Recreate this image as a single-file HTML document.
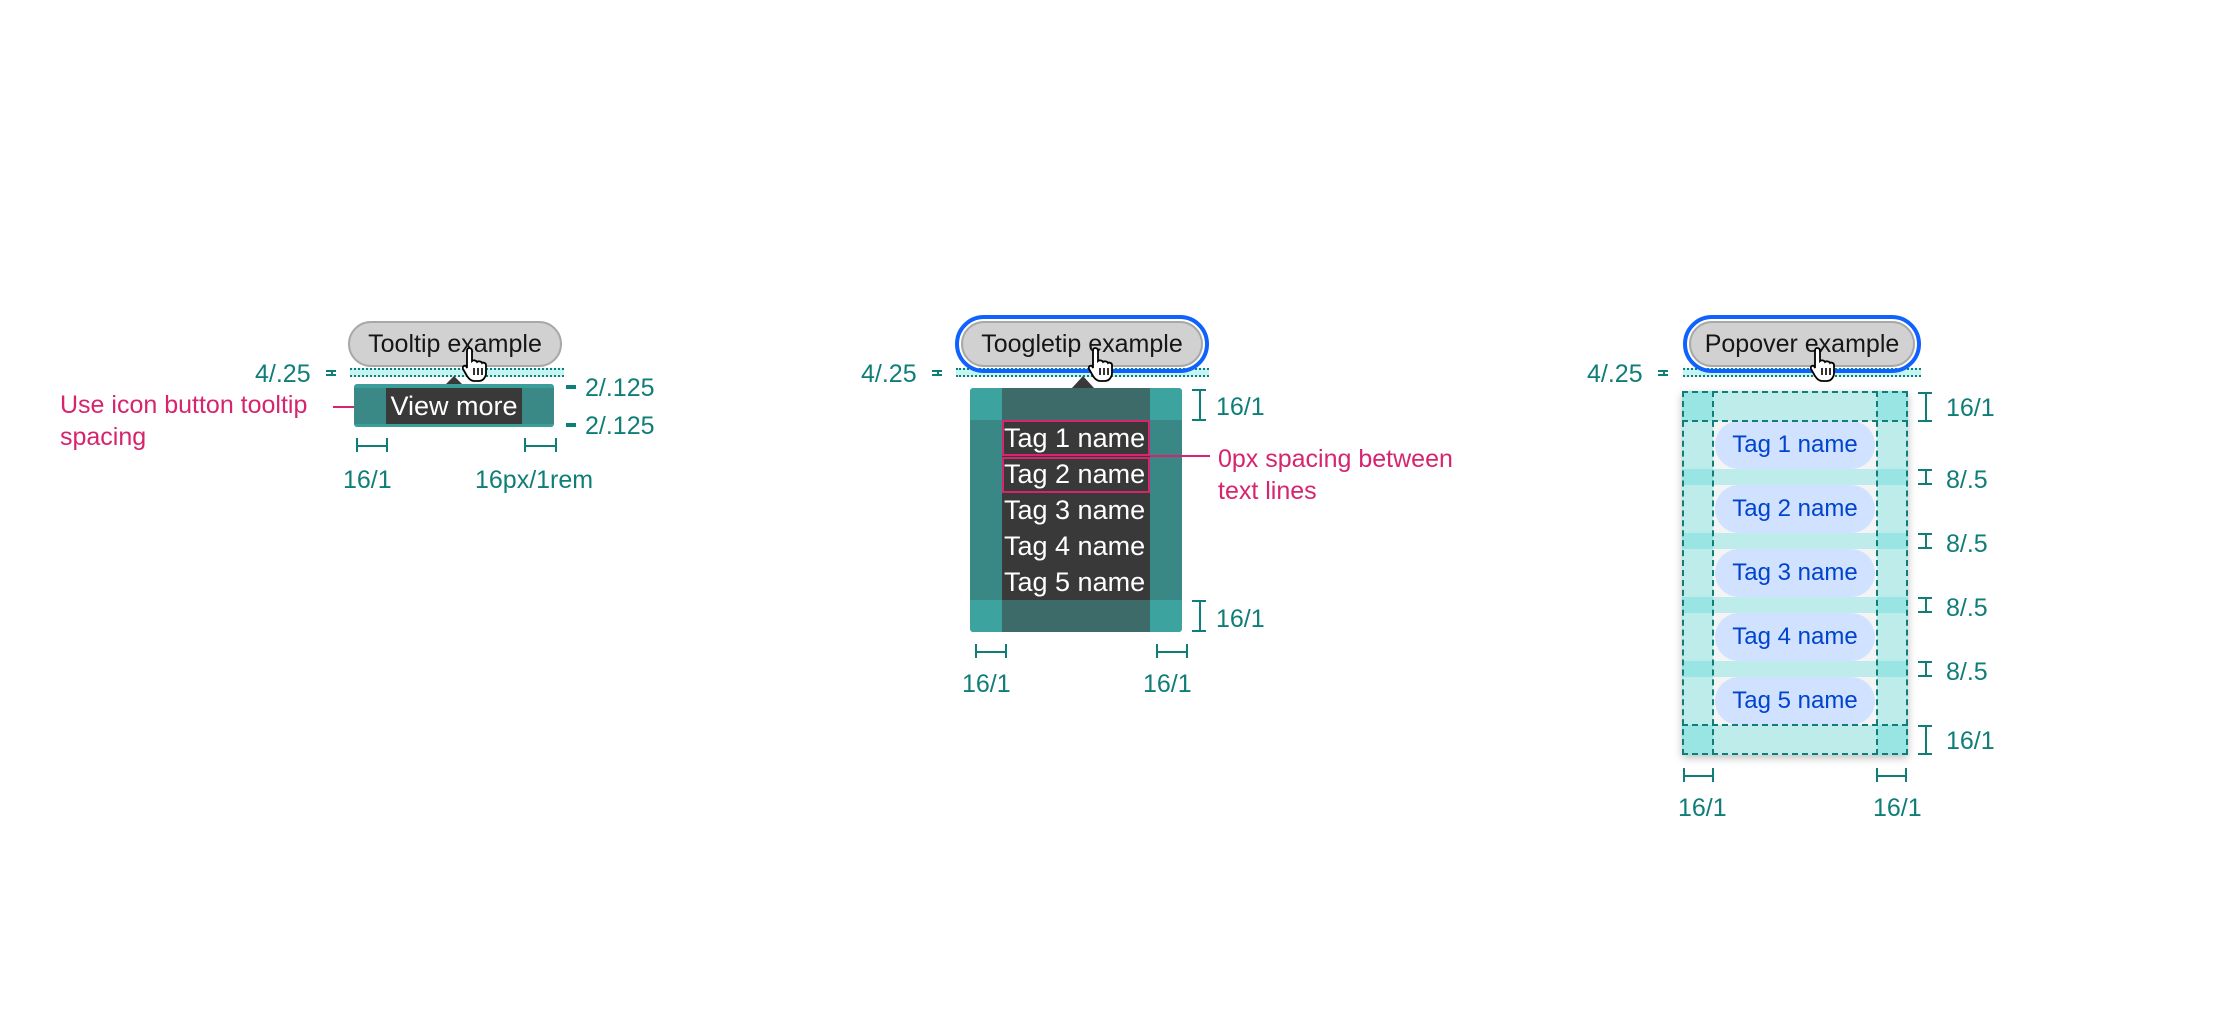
<!DOCTYPE html>
<html><head><meta charset="utf-8"><style>
body{margin:0;width:2240px;height:1016px;background:#fff;position:relative;overflow:hidden;font-family:"Liberation Sans",sans-serif}
.a{position:absolute}
.t{position:absolute;color:#0f7d78;font-size:25px;line-height:28px;white-space:nowrap}
.p{position:absolute;color:#d6246e;font-size:25px;line-height:32px;white-space:nowrap}
.btn{position:absolute;background:#d1d1d1;border:2px solid #a8a8a8;border-radius:24px;box-sizing:border-box;font-size:25px;color:#161616;text-align:center}
.ring{position:absolute;border:4px solid #0f62fe;border-radius:30px;box-sizing:border-box}
.band{position:absolute;background:#c6f4f2;border-top:2px dotted #0f7d78;border-bottom:2px dotted #0f7d78;box-sizing:border-box}
.hb{position:absolute;border-left:2px solid #0f7d78;border-right:2px solid #0f7d78;box-sizing:border-box}
.hb:after{content:"";position:absolute;left:0;right:0;top:50%;border-top:2px solid #0f7d78}
.vb{position:absolute;border-top:2px solid #0f7d78;border-bottom:2px solid #0f7d78;box-sizing:border-box}
.vb:after{content:"";position:absolute;top:0;bottom:0;left:50%;border-left:2px solid #0f7d78}
.tag{position:absolute;color:#fff;font-size:27px;line-height:36px}
.pill{position:absolute;left:1715px;width:160px;height:48px;border-radius:24px;background:#d0e2ff;color:#0043ce;font-size:24px;line-height:48px;text-align:center}
</style></head><body>
<!-- Tooltip -->
<div class="band" style="left:350px;top:368px;width:214px;height:9px"></div>
<div class="btn" style="left:348px;top:321px;width:214px;height:46px;line-height:42px">Tooltip example</div>
<div class="a" style="left:354px;top:384px;width:200px;height:43px;background:#3c9e9b;border-radius:3px"></div>
<div class="a" style="left:354px;top:388px;width:200px;height:36px;background:#3b8987"></div>
<div class="a" style="left:446px;top:376px;width:0;height:0;border-left:8px solid transparent;border-right:8px solid transparent;border-bottom:8px solid #393939"></div>
<div class="a" style="left:386px;top:388px;width:136px;height:36px;background:#393939;color:#fff;font-size:27px;line-height:36px;text-align:center">View more</div>
<div class="t" style="left:255px;top:360px">4/.25</div>
<div class="vb" style="left:326px;top:370px;width:10px;height:6px"></div>
<div class="vb" style="left:566px;top:385px;width:10px;height:4px"></div>
<div class="t" style="left:585px;top:374px">2/.125</div>
<div class="vb" style="left:566px;top:423px;width:10px;height:4px"></div>
<div class="t" style="left:585px;top:412px">2/.125</div>
<div class="p" style="left:60px;top:389px">Use icon button tooltip<br>spacing</div>
<div class="a" style="left:333px;top:406px;width:21px;height:2px;background:#d6246e"></div>
<div class="hb" style="left:356px;top:438px;width:32px;height:14px"></div>
<div class="hb" style="left:524px;top:438px;width:33px;height:14px"></div>
<div class="t" style="left:343px;top:466px">16/1</div>
<div class="t" style="left:475px;top:466px">16px/1rem</div>

<!-- Toggletip -->
<div class="band" style="left:956px;top:368px;width:253px;height:9px"></div>
<div class="ring" style="left:955px;top:315px;width:254px;height:58px"></div>
<div class="btn" style="left:961px;top:321px;width:242px;height:46px;line-height:42px">Toogletip example</div>
<div class="a" style="left:1072px;top:376px;width:0;height:0;border-left:11px solid transparent;border-right:11px solid transparent;border-bottom:12px solid #393939"></div>
<div class="a" style="left:970px;top:388px;width:212px;height:244px;background:#3ca39f;border-radius:3px"></div>
<div class="a" style="left:970px;top:420px;width:212px;height:180px;background:#3a8886"></div>
<div class="a" style="left:1002px;top:388px;width:148px;height:244px;background:#3c6b69"></div>
<div class="a" style="left:1002px;top:420px;width:148px;height:180px;background:#393939"></div>
<div class="tag" style="left:1004px;top:420px">Tag 1 name</div>
<div class="tag" style="left:1004px;top:456px">Tag 2 name</div>
<div class="tag" style="left:1004px;top:492px">Tag 3 name</div>
<div class="tag" style="left:1004px;top:528px">Tag 4 name</div>
<div class="tag" style="left:1004px;top:564px">Tag 5 name</div>
<div class="a" style="left:1002px;top:420px;width:148px;height:36px;border:2px solid #d6246e;box-sizing:border-box"></div>
<div class="a" style="left:1002px;top:457px;width:148px;height:36px;border:2px solid #d6246e;box-sizing:border-box"></div>
<div class="a" style="left:1150px;top:455px;width:60px;height:2px;background:#d6246e"></div>
<div class="p" style="left:1218px;top:443px">0px spacing between<br>text lines</div>
<div class="t" style="left:861px;top:360px">4/.25</div>
<div class="vb" style="left:932px;top:370px;width:10px;height:6px"></div>
<div class="vb" style="left:1192px;top:389px;width:14px;height:32px"></div>
<div class="t" style="left:1216px;top:393px">16/1</div>
<div class="vb" style="left:1192px;top:600px;width:14px;height:32px"></div>
<div class="t" style="left:1216px;top:605px">16/1</div>
<div class="hb" style="left:975px;top:644px;width:32px;height:14px"></div>
<div class="hb" style="left:1156px;top:644px;width:32px;height:14px"></div>
<div class="t" style="left:962px;top:670px">16/1</div>
<div class="t" style="left:1143px;top:670px">16/1</div>

<!-- Popover -->
<div class="band" style="left:1683px;top:368px;width:238px;height:9px"></div>
<div class="ring" style="left:1683px;top:315px;width:238px;height:58px"></div>
<div class="btn" style="left:1689px;top:321px;width:226px;height:46px;line-height:42px">Popover example</div>
<div class="a" style="left:1682px;top:391px;width:226px;height:364px;background:#bdecea;box-shadow:0 3px 8px rgba(0,0,0,0.25)"></div>
<div class="a" style="left:1713px;top:421px;width:164px;height:304px;background:#f4f4f4"></div>
<div class="a" style="left:1682px;top:391px;width:31px;height:30px;background:#98e5e3"></div>
<div class="a" style="left:1877px;top:391px;width:31px;height:30px;background:#98e5e3"></div>
<div class="a" style="left:1682px;top:725px;width:31px;height:30px;background:#98e5e3"></div>
<div class="a" style="left:1877px;top:725px;width:31px;height:30px;background:#98e5e3"></div>
<div class="pill" style="top:421px">Tag 1 name</div>
<div class="pill" style="top:485px">Tag 2 name</div>
<div class="pill" style="top:549px">Tag 3 name</div>
<div class="pill" style="top:613px">Tag 4 name</div>
<div class="pill" style="top:677px">Tag 5 name</div>
<div class="a" style="left:1682px;top:469px;width:226px;height:16px;background:#bdecea"></div>
<div class="a" style="left:1682px;top:533px;width:226px;height:16px;background:#bdecea"></div>
<div class="a" style="left:1682px;top:597px;width:226px;height:16px;background:#bdecea"></div>
<div class="a" style="left:1682px;top:661px;width:226px;height:16px;background:#bdecea"></div>
<div class="a" style="left:1682px;top:469px;width:31px;height:16px;background:#98e5e3;box-shadow:195px 0 0 #98e5e3"></div>
<div class="a" style="left:1682px;top:533px;width:31px;height:16px;background:#98e5e3;box-shadow:195px 0 0 #98e5e3"></div>
<div class="a" style="left:1682px;top:597px;width:31px;height:16px;background:#98e5e3;box-shadow:195px 0 0 #98e5e3"></div>
<div class="a" style="left:1682px;top:661px;width:31px;height:16px;background:#98e5e3;box-shadow:195px 0 0 #98e5e3"></div>
<div class="a" style="left:1682px;top:391px;width:226px;height:364px;border:2px dashed #0f7d78;box-sizing:border-box"></div>
<div class="a" style="left:1712px;top:391px;width:0;height:364px;border-left:2px dashed #0f7d78"></div>
<div class="a" style="left:1876px;top:391px;width:0;height:364px;border-left:2px dashed #0f7d78"></div>
<div class="a" style="left:1682px;top:420px;width:226px;height:0;border-top:2px dashed #0f7d78"></div>
<div class="a" style="left:1682px;top:724px;width:226px;height:0;border-top:2px dashed #0f7d78"></div>
<div class="t" style="left:1587px;top:360px">4/.25</div>
<div class="vb" style="left:1658px;top:370px;width:10px;height:6px"></div>
<div class="vb" style="left:1918px;top:392px;width:14px;height:30px"></div>
<div class="t" style="left:1946px;top:394px">16/1</div>
<div class="vb" style="left:1918px;top:469px;width:14px;height:16px"></div>
<div class="t" style="left:1946px;top:466px">8/.5</div>
<div class="vb" style="left:1918px;top:533px;width:14px;height:16px"></div>
<div class="t" style="left:1946px;top:530px">8/.5</div>
<div class="vb" style="left:1918px;top:597px;width:14px;height:16px"></div>
<div class="t" style="left:1946px;top:594px">8/.5</div>
<div class="vb" style="left:1918px;top:661px;width:14px;height:16px"></div>
<div class="t" style="left:1946px;top:658px">8/.5</div>
<div class="vb" style="left:1918px;top:725px;width:14px;height:30px"></div>
<div class="t" style="left:1946px;top:727px">16/1</div>
<div class="hb" style="left:1683px;top:768px;width:31px;height:14px"></div>
<div class="hb" style="left:1876px;top:768px;width:31px;height:14px"></div>
<div class="t" style="left:1678px;top:794px">16/1</div>
<div class="t" style="left:1873px;top:794px">16/1</div>

<!-- cursors -->
<svg class="a" style="left:462px;top:346px" width="30" height="36" viewBox="0 0 30 36"><path d="M7 2c2 0 3 1 3 3v10c1-1 4-1 5 1 1-1 4-1 5 1 1-1 4 0 4 2v8c0 4-3 8-7 8h-5c-3 0-5-2-7-5l-4-7c-1-2 1-4 3-3l1 2V5c0-2 1-3 2-3z" fill="#fff" stroke="#000" stroke-width="1.8"/><path d="M12 22v7M16 22v7M20 22v7" stroke="#000" stroke-width="1.6"/></svg>
<svg class="a" style="left:1088px;top:346px" width="30" height="36" viewBox="0 0 30 36"><path d="M7 2c2 0 3 1 3 3v10c1-1 4-1 5 1 1-1 4-1 5 1 1-1 4 0 4 2v8c0 4-3 8-7 8h-5c-3 0-5-2-7-5l-4-7c-1-2 1-4 3-3l1 2V5c0-2 1-3 2-3z" fill="#fff" stroke="#000" stroke-width="1.8"/><path d="M12 22v7M16 22v7M20 22v7" stroke="#000" stroke-width="1.6"/></svg>
<svg class="a" style="left:1810px;top:346px" width="30" height="36" viewBox="0 0 30 36"><path d="M7 2c2 0 3 1 3 3v10c1-1 4-1 5 1 1-1 4-1 5 1 1-1 4 0 4 2v8c0 4-3 8-7 8h-5c-3 0-5-2-7-5l-4-7c-1-2 1-4 3-3l1 2V5c0-2 1-3 2-3z" fill="#fff" stroke="#000" stroke-width="1.8"/><path d="M12 22v7M16 22v7M20 22v7" stroke="#000" stroke-width="1.6"/></svg>
</body></html>
